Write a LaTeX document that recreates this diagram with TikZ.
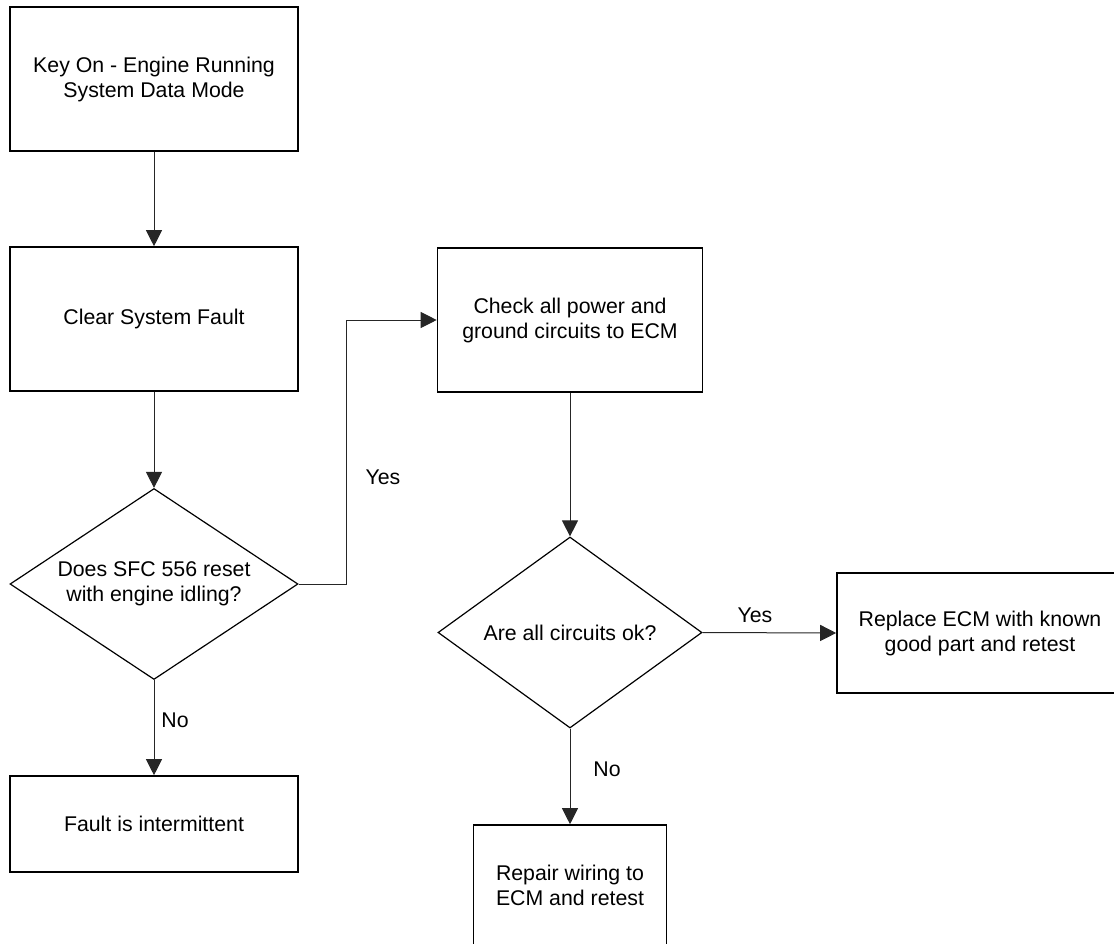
\documentclass[tikz,border=0pt]{standalone}
\usepackage{fontspec}
\setmainfont{Liberation Sans}
\usetikzlibrary{shapes.geometric,arrows.meta}
\begin{document}
\begin{tikzpicture}[x=1pt,y=-1pt,
  every node/.style={font=\fontsize{21.3pt}{25pt}\selectfont, align=center, inner sep=0pt},
  stepbox/.style={draw=black, line width=1.6pt, rectangle},
  decision/.style={draw=black, line width=1.2pt, diamond},
  conn/.style={draw=black!85, line width=1pt, -{Triangle[length=16pt,width=16pt]}},
  lbl/.style={font=\fontsize{21.3pt}{25pt}\selectfont}]
\useasboundingbox (0,0) rectangle (1114,943);
\clip (0,0) rectangle (1114,943);

\node[stepbox, minimum width=288pt, minimum height=144pt] (b1) at (154,79) {Key On - Engine Running\\System Data Mode};
\node[stepbox, minimum width=288pt, minimum height=144pt] (b2) at (154,319) {Clear System Fault};
\node[decision, shape aspect=1.5, minimum width=288pt, minimum height=191pt] (d1) at (154,584) {Does SFC 556 reset\\with engine idling?};
\node[stepbox, minimum width=288pt, minimum height=96pt] (b3) at (154,824) {Fault is intermittent};
\node[stepbox, minimum width=265pt, minimum height=144pt] (b4) at (570,320) {Check all power and\\ground circuits to ECM};
\node[decision, shape aspect=1.38, minimum width=264pt, minimum height=191pt] (d2) at (570,632.5) {Are all circuits ok?};
\node[stepbox, minimum width=286pt, minimum height=120pt] (b5) at (980,633) {Replace ECM with known\\good part and retest};
\node[stepbox, minimum width=193pt, minimum height=120pt] (b6) at (570,885) {Repair wiring to\\ECM and retest};

\draw[conn] (b1.south) -- (b2.north);
\draw[conn] (b2.south) -- (d1.north);
\draw[conn] (d1.south) -- (b3.north);
\draw[conn] (d1.east) -- ++(48,0) |- (b4.west);
\draw[conn] (b4.south) -- (d2.north);
\draw[conn] (d2.east) -- (b5.west);
\draw[conn] (d2.south) -- (b6.north);

\node[lbl] (no1) at (175,720) {No};
\node[lbl] (yes1) at (383,477) {Yes};
\node[lbl] (yes2) at (755,615) {Yes};
\node[lbl] (no2) at (607,769) {No};
\end{tikzpicture}
\end{document}
